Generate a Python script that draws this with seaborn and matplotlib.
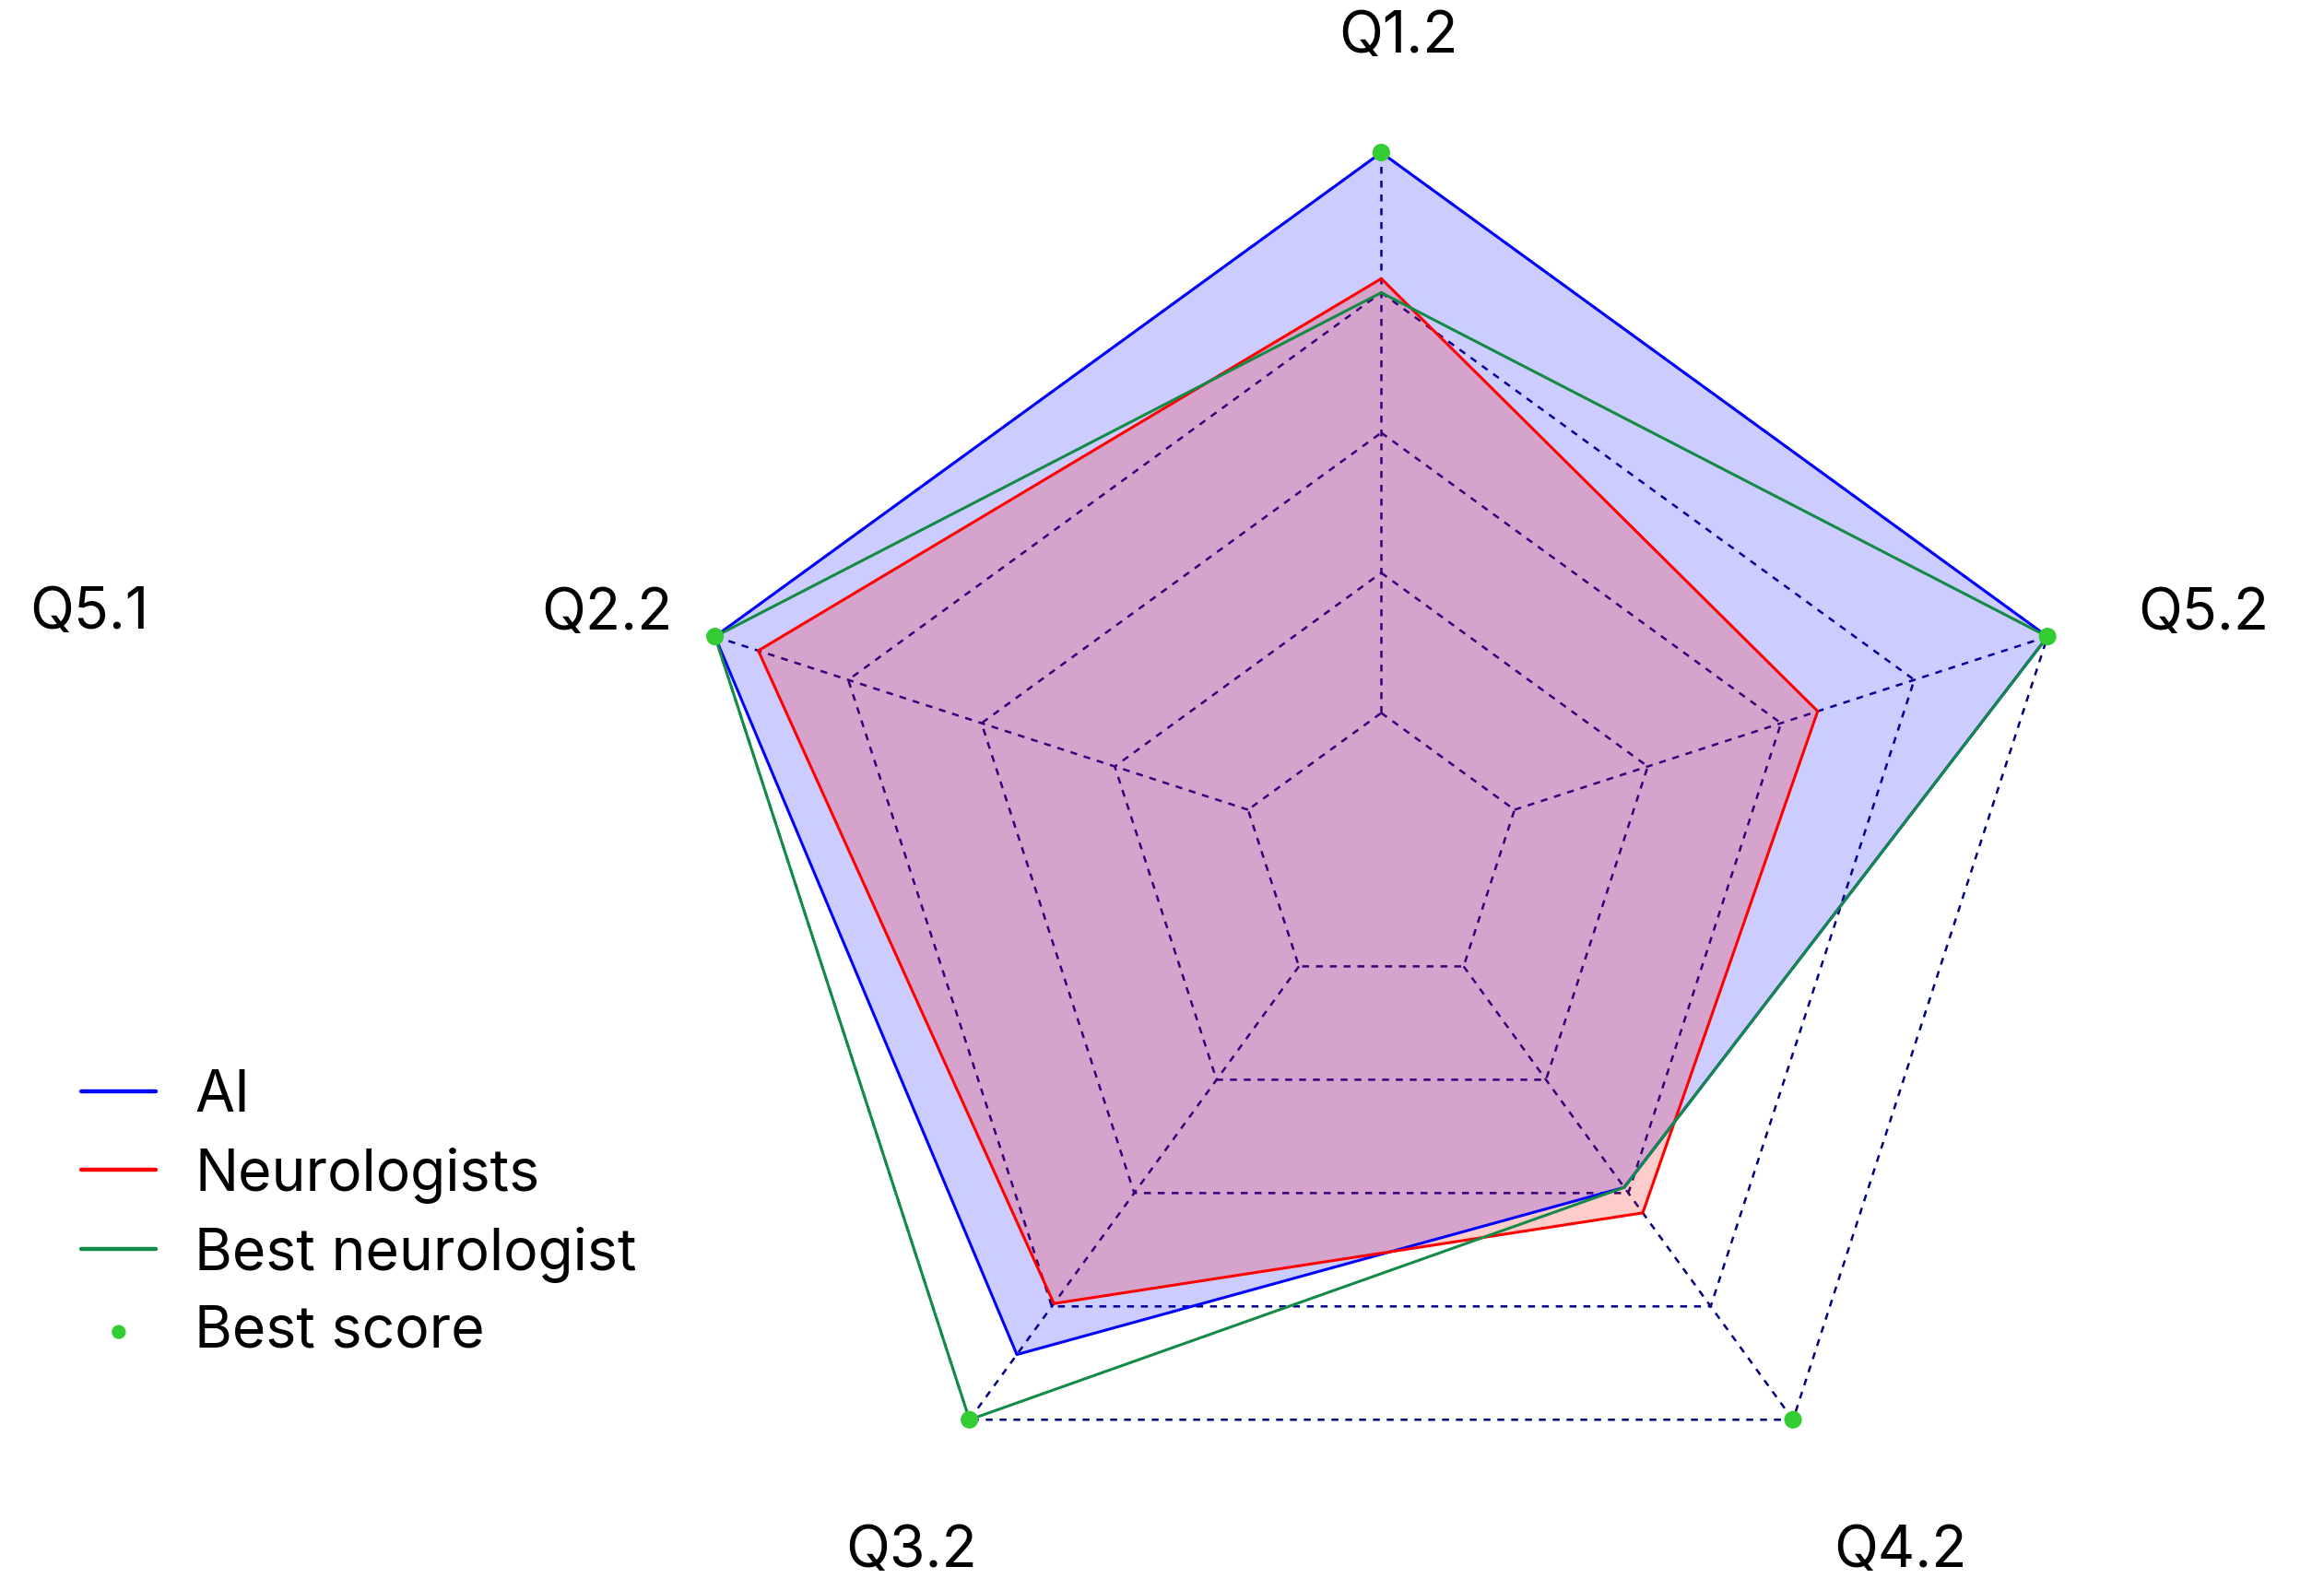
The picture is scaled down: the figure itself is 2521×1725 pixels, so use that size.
import numpy as np
import seaborn as sns
import matplotlib.pyplot as plt

# radar axes, clockwise from the top
questions = ['Q1.2', 'Q5.2', 'Q4.2', 'Q3.2', 'Q2.2']
ai_scores = [1.00, 1.00, 0.59, 0.885, 1.00]
neuro_scores = [0.82, 0.655, 0.635, 0.795, 0.935]
best_neuro_scores = [0.80, 1.00, 0.59, 1.00, 1.00]
best_scores = [1.00, 1.00, 1.00, 1.00, 1.00]
grid_levels = [0.2, 0.4, 0.6, 0.8, 1.0]
extra_label = 'Q5.1'

sns.set_theme(style='white')
plt.rcParams['font.family'] = ['Inter', 'DejaVu Sans']
plt.rcParams['text.color'] = 'black'

fig = plt.figure(figsize=(25.21, 17.25), dpi=100)
ax = fig.add_axes([0.2929, 0.0229, 0.6029, 0.8812], projection='polar')

n = len(questions)
theta = np.deg2rad(90 - 72 * np.arange(n))
theta_c = np.append(theta, theta[0] - 2 * np.pi)

def closed(v):
    return np.append(v, v[0])

# dotted pentagon grid + spokes (spokes start at the first ring)
grid_kw = dict(color='#000080', lw=1.8, ls=(0, (3, 3)), zorder=1)
for lv in grid_levels:
    ax.plot(theta_c, [lv] * (n + 1), **grid_kw)
for t in theta:
    ax.plot([t, t], [grid_levels[0], 1], **grid_kw)

ax.fill(theta_c, closed(ai_scores), color='blue', alpha=0.2, lw=0, zorder=2)
ax.fill(theta_c, closed(neuro_scores), color='red', alpha=0.2, lw=0, zorder=2)

sns.lineplot(x=theta_c, y=closed(ai_scores), sort=False, color='blue', lw=2.2,
             label='AI', ax=ax, zorder=3)
sns.lineplot(x=theta_c, y=closed(neuro_scores), sort=False, color='red', lw=2.2,
             label='Neurologists', ax=ax, zorder=3)
sns.lineplot(x=theta_c, y=closed(best_neuro_scores), sort=False, color='#138a45', lw=2.2,
             label='Best neurologist', ax=ax, zorder=3)
sns.scatterplot(x=theta, y=best_scores, color='#33cc33', s=190, edgecolor='none',
                label='Best score', ax=ax, zorder=4, clip_on=False)

ax.set_ylim(0, 1)
ax.set_xticks([])
ax.set_yticks([])
ax.grid(False)
ax.spines['polar'].set_visible(False)
ax.set_xlabel('')
ax.set_ylabel('')
ax.patch.set_alpha(0)

# axis labels (angle in degrees, radius)
label_pos = [(88.8, 1.165), (16.2, 1.222), (-53.4, 1.243), (-123.9, 1.202), (162.9, 1.157)]
for q, (a, r) in zip(questions, label_pos):
    ax.text(np.deg2rad(a), r, q, fontsize=45, ha='center', va='center', color='black')
ax.text(np.deg2rad(169.5), 1.875, extra_label, fontsize=45, ha='center', va='center',
        color='black')

handles, labels = ax.get_legend_handles_labels()
ax.get_legend().remove()
leg = fig.legend(handles, labels, loc='center left', bbox_to_anchor=(0.035, 0.2365),
                 frameon=False, fontsize=45, handlelength=1.3, handletextpad=0.67,
                 labelspacing=0.4, borderpad=0, borderaxespad=0, markerscale=0.8)
for h in leg.get_lines():
    h.set_linewidth(3.2)
for t in leg.get_texts():
    t.set_color('black')

fig.savefig('out.png', dpi=100)
